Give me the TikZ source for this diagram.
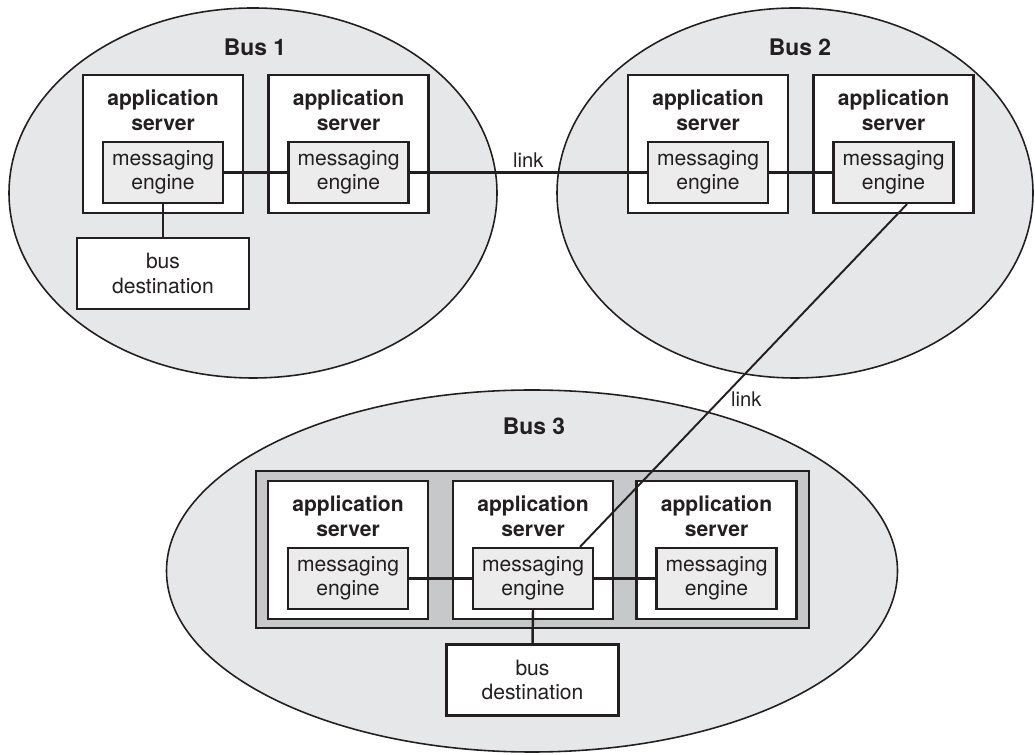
\documentclass[tikz,border=0pt]{standalone}
\usepackage{fontspec}
\setmainfont{TeX Gyre Heros}
\usetikzlibrary{positioning, calc}
\definecolor{inkdark}{HTML}{231F20}
\definecolor{busfill}{HTML}{E6E7E8}
\definecolor{panelfill}{HTML}{C7C8C9}
\definecolor{enginefill}{HTML}{ECECEC}

\tikzset{
  bus/.style={draw=inkdark, fill=busfill, line width=0.9pt},
  buslabel/.style={font=\fontsize{13}{15}\selectfont\bfseries, text=inkdark},
  appsrv/.style={draw=inkdark, fill=white, line width=1.3pt,
    minimum width=3.2cm, minimum height=2.76cm, inner sep=0pt},
  srvtitle/.style={font=\fontsize{12}{14}\selectfont\bfseries, text=inkdark,
    align=center, inner sep=0pt, anchor=north, yshift=-0.31cm},
  engine/.style={draw=inkdark, fill=enginefill, line width=1.3pt,
    minimum width=2.4cm, minimum height=1.22cm, inner sep=0pt,
    align=center, font=\fontsize{12}{14}\selectfont, text=inkdark},
  busdest/.style={engine, fill=white, minimum width=3.44cm, minimum height=1.42cm},
  panel/.style={draw=inkdark, fill=panelfill, line width=1.3pt,
    minimum width=11.06cm, minimum height=3.14cm, inner sep=0pt},
  wire/.style={draw=inkdark, line width=1.4pt},
  linklabel/.style={font=\fontsize{11.5}{13}\selectfont, text=inkdark, inner sep=2pt}
}

\begin{document}
\begin{tikzpicture}

% Page: 1035 x 755 px  ->  20.7 x 15.1 cm  (50 px per cm, y measured from bottom)
\useasboundingbox (0,0) rectangle (20.7,15.1);

% ================================================================
% Bus ellipses
% ================================================================
\draw[bus] (5.06,11.24) ellipse [x radius=4.88, y radius=3.7];
\draw[bus] (15.9,11.24) ellipse [x radius=4.76, y radius=3.7];
\draw[bus] (10.64,3.68) ellipse [x radius=7.31, y radius=3.62];

\node[buslabel] (bus1) at (5.1,14.16) {Bus 1};
\node[buslabel] (bus2) at (16.0,14.16) {Bus 2};
\node[buslabel] (bus3) at (10.68,6.58) {Bus 3};

% Cluster panel in Bus 3 (behind servers 5-7)
\node[panel] (cluster) at (10.65,4.11) {};

% ================================================================
% Application servers, each holding one messaging engine
% ================================================================
\foreach \i/\x/\y in {1/3.26/12.22, 2/6.97/12.22, 3/14.16/12.22, 4/17.87/12.22,
                      5/6.96/4.1, 6/10.66/4.1, 7/14.33/4.1} {
  \node[appsrv] (srv\i) at (\x,\y) {};
  \node[srvtitle] (srv\i-t) at (srv\i.north) {application\\server};
  \node[engine] (me\i) at ($(srv\i.center)+(0,-0.57)$) {messaging\\engine};
}

% Bus destinations
\node[busdest] (dest1) at (3.26,9.63) {bus\\destination};
\node[busdest] (dest3) at (10.65,1.5) {bus\\destination};

% ================================================================
% Connections
% ================================================================
\draw[wire] (me1.east) -- (me2.west);
\draw[wire] (me1.south) -- (dest1.north);
\draw[wire] (me2.east) -- node[linklabel, above] (link12) {link} (me3.west);
\draw[wire] (me3.east) -- (me4.west);

\draw[wire] (me5.east) -- (me6.west);
\draw[wire] (me6.east) -- (me7.west);
\draw[wire] (me6.south) -- (dest3.north);

% Link from Bus 2 down into Bus 3
\coordinate (l2a) at ($(me4.south)+(0.27,0)$);
\coordinate (l2b) at ($(me6.north)+(0.94,0)$);
\draw[wire, line width=1.1pt] (l2a) -- node[linklabel, pos=0.57, anchor=west, xshift=0.12cm] (link23) {link} (l2b);

\end{tikzpicture}
\end{document}
